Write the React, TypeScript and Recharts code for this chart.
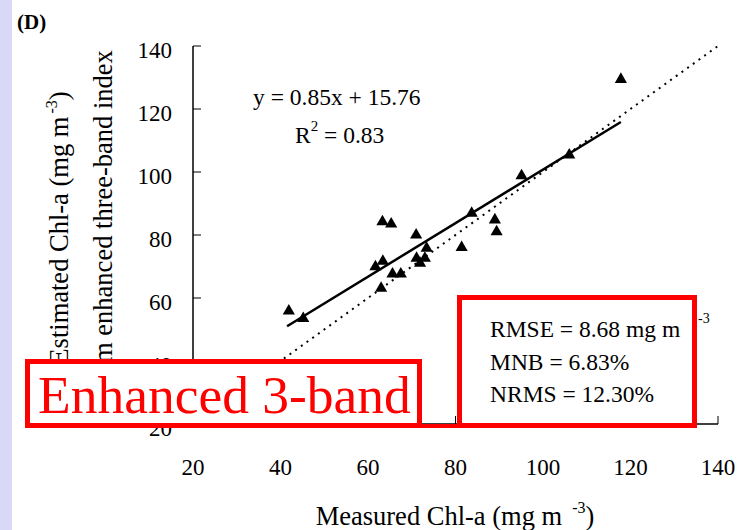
import React from 'react';
import { ScatterChart, Scatter, XAxis, YAxis, ZAxis } from 'recharts';

const measured = [41.9, 45.2, 63.0, 61.7, 63.4, 65.6, 67.5, 63.3, 65.3, 71.0, 71.1, 71.9, 73.0, 73.4, 81.4, 83.7, 89.0, 89.4, 95.1, 106.0, 117.8];
const estimated = [55.9, 53.5, 63.1, 69.9, 71.7, 67.6, 67.6, 84.2, 83.5, 80.0, 72.6, 71.0, 72.6, 75.8, 76.0, 86.9, 84.8, 81.0, 98.8, 105.4, 129.4];

// regression y = 0.85x + 15.76 drawn over the measured range
const slope = 0.85;
const intercept = 15.76;
const fitRange = [41.5, 117.8];
const oneToOne = [20, 141];

const axisTicks = [20, 40, 60, 80, 100, 120, 140];
const statLines = ['RMSE = 8.68 mg m', 'MNB = 6.83%', 'NRMS = 12.30%'];

const points = measured.map((x, i) => ({ x, y: estimated[i] }));
const fitLine = fitRange.map((x) => ({ x, y: slope * x + intercept }));
const refLine = oneToOne.map((v) => ({ x: v, y: v }));

const FONT = '"Liberation Serif", "Times New Roman", serif';
const RED = '#ff0000';

const XTick = (props: any) => {
  const { x, y, payload } = props;
  return (
    <text x={x} y={y} dy={16} textAnchor="middle" fontSize={23} fontFamily={FONT} fill="#000">
      {payload.value}
    </text>
  );
};

const YTick = (props: any) => {
  const { x, y, payload } = props;
  return (
    <text x={x} y={y} dy={11.5} textAnchor="end" fontSize={23} fontFamily={FONT} fill="#000">
      {payload.value}
    </text>
  );
};

const NoDot = () => <g />;

export default function App() {
  return (
    <div style={{ position: 'absolute', left: 0, top: 0, width: 743, height: 530, background: '#fff', fontFamily: FONT }}>
      <div style={{ position: 'absolute', left: 0, top: 0, width: 12, height: 530, background: '#d9d9f7' }} />
      <div style={{ position: 'absolute', left: 0, top: 0 }}>
        <ScatterChart width={743} height={530} margin={{ top: 46, right: 25, bottom: 0, left: 0 }}>
          <XAxis
            type="number"
            dataKey="x"
            domain={[20, 140]}
            allowDataOverflow
            ticks={axisTicks}
            height={106}
            tickSize={-8}
            tickMargin={43}
            tick={<XTick />}
            axisLine={{ stroke: '#000', strokeWidth: 1.5 }}
            tickLine={{ stroke: '#000' }}
          />
          <XAxis
            xAxisId="top"
            orientation="top"
            type="number"
            dataKey="x"
            domain={[20, 140]}
            height={0}
            tick={false}
            tickLine={false}
            axisLine={{ stroke: '#888' }}
          />
          <YAxis
            type="number"
            dataKey="y"
            domain={[20, 140]}
            allowDataOverflow
            ticks={axisTicks}
            width={193}
            tickSize={-8}
            tickMargin={29}
            tick={<YTick />}
            axisLine={{ stroke: '#000', strokeWidth: 1.5 }}
            tickLine={{ stroke: '#000' }}
          />
          <YAxis
            yAxisId="right"
            orientation="right"
            type="number"
            dataKey="y"
            domain={[20, 140]}
            width={0}
            tick={false}
            tickLine={false}
            axisLine={{ stroke: '#888' }}
          />
          <ZAxis range={[90, 90]} />
          <Scatter
            data={refLine}
            line={{ stroke: '#000', strokeWidth: 2, strokeDasharray: '2 5' }}
            shape={<NoDot />}
            isAnimationActive={false}
          />
          <Scatter
            data={fitLine}
            line={{ stroke: '#000', strokeWidth: 2.5 }}
            shape={<NoDot />}
            isAnimationActive={false}
          />
          <Scatter data={points} shape="triangle" fill="#000" isAnimationActive={false} />
        </ScatterChart>
      </div>
      <svg width={743} height={530} style={{ position: 'absolute', left: 0, top: 0, pointerEvents: 'none' }} fontFamily={FONT}>
        <text x={17} y={29} fontSize={21} fontWeight="bold" fill="#000">(D)</text>

        <text x={253} y={105} fontSize={23.5} fill="#000">y = 0.85x + 15.76</text>
        <text x={295} y={143} fontSize={23.5} fill="#000">
          R<tspan dy={-12} fontSize={15}>2</tspan>
          <tspan dy={12}> = 0.83</tspan>
        </text>

        <g transform="translate(68,228) rotate(-90)">
          <text x={0} y={0} textAnchor="middle" fontSize={26.5} fill="#000">
            Estimated Chl-a (mg m<tspan dx={3} dy={-11} fontSize={16}>-3</tspan>
            <tspan dy={11}>)</tspan>
          </text>
        </g>
        <g transform="translate(112,222) rotate(-90)">
          <text x={0} y={0} textAnchor="middle" fontSize={26.5} fill="#000">from enhanced three-band index</text>
        </g>

        <text x={455} y={525} textAnchor="middle" fontSize={26.5} fill="#000">
          Measured Chl-a (mg m<tspan dx={10} dy={-12} fontSize={16}>-3</tspan>
          <tspan dy={12}>)</tspan>
        </text>

        <rect x={25} y={424} width={672} height={4} fill={RED} />
        <rect x={27.5} y={361.5} width={392} height={64} fill="#fff" stroke={RED} strokeWidth={5} />
        <text x={38} y={413} fontSize={53.5} fill={RED}>Enhanced 3-band</text>

        <rect x={459.5} y={297.5} width={235} height={128} fill="#fff" stroke={RED} strokeWidth={5} />
        {statLines.map((s, i) => (
          <text key={s} x={490} y={337 + i * 32.5} fontSize={23.5} fill="#000">{s}</text>
        ))}
        <text x={698} y={323} fontSize={14} fill="#000">-3</text>
      </svg>
    </div>
  );
}
